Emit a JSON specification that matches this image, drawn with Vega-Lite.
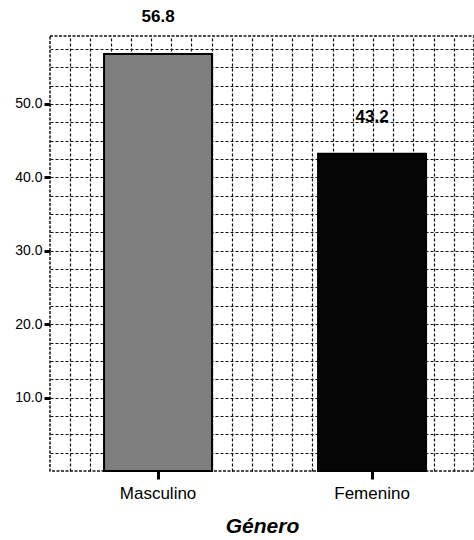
{
  "$schema": "https://vega.github.io/schema/vega-lite/v6.json",
  "autosize": {"type": "none"},
  "padding": {"left": 50, "top": 36, "right": 0, "bottom": 69},
  "width": 424,
  "height": 435,
  "background": "white",
  "config": {
    "font": "Liberation Sans",
    "view": {"stroke": "#111", "strokeWidth": 1.5, "strokeDash": [3, 1.5]}
  },
  "data": {"values": [
    {"genero": "Masculino", "pct": 56.8},
    {"genero": "Femenino", "pct": 43.2}
  ]},
  "layer": [
    {
      "mark": {"type": "point", "opacity": 0, "clip": true},
      "encoding": {
        "x": {
          "field": "pct", "type": "quantitative",
          "scale": {"domain": [0, 21], "nice": false, "zero": false},
          "axis": {"orient": "top", "values": [1,2,3,4,5,6,7,8,9,10,11,12,13,14,15,16,17,18,19,20],
            "grid": true, "gridColor": "#111", "gridDash": [3, 2], "gridWidth": 1.2,
            "labels": false, "ticks": false, "domain": false, "title": null}
        },
        "y": {
          "field": "pct", "type": "quantitative",
          "scale": {"domain": [0, 59.25], "nice": false},
          "axis": {"orient": "left", "values": [2.5,5,7.5,10,12.5,15,17.5,20,22.5,25,27.5,30,32.5,35,37.5,40,42.5,45,47.5,50,52.5,55,57.5],
            "grid": true, "gridColor": "#111", "gridDash": [3, 2], "gridWidth": 1.2,
            "labels": false, "ticks": false, "domain": false, "title": null}
        }
      }
    },
    {
      "layer": [
        {
          "mark": {"type": "bar", "stroke": "black", "strokeWidth": 2},
          "encoding": {
            "x": {
              "field": "genero", "type": "nominal", "sort": ["Masculino", "Femenino"],
              "scale": {"paddingInner": 0.4953, "paddingOuter": 0.2383, "align": 0.53},
              "axis": {"orient": "bottom", "labelAngle": 0, "domain": false, "tickSize": 8, "tickWidth": 3, "tickColor": "black",
                "labelFontSize": 17, "labelColor": "black", "labelPadding": 6,
                "title": "Género", "titleFontSize": 21, "titleFontWeight": "bold", "titleFontStyle": "italic",
                "titleColor": "black", "titlePadding": 14}
            },
            "y": {
              "field": "pct", "type": "quantitative",
              "axis": {"orient": "left", "values": [10, 20, 30, 40, 50], "format": ".1f", "grid": false, "domain": false,
                "tickSize": 6, "tickWidth": 3, "tickColor": "black", "labelFontSize": 14, "labelColor": "black",
                "labelPadding": 2, "title": null}
            },
            "color": {
              "field": "genero", "type": "nominal",
              "scale": {"domain": ["Masculino", "Femenino"], "range": ["#7e7e7e", "#050505"]},
              "legend": null
            }
          }
        },
        {
          "mark": {"type": "text", "dy": -37, "fontSize": 17, "fontWeight": "bold", "baseline": "middle", "color": "black"},
          "encoding": {
            "x": {"field": "genero", "type": "nominal", "sort": ["Masculino", "Femenino"]},
            "y": {"field": "pct", "type": "quantitative"},
            "text": {"field": "pct", "type": "quantitative", "format": ".1f"}
          }
        }
      ]
    }
  ],
  "resolve": {"scale": {"x": "independent"}, "axis": {"x": "independent", "y": "independent"}}
}
